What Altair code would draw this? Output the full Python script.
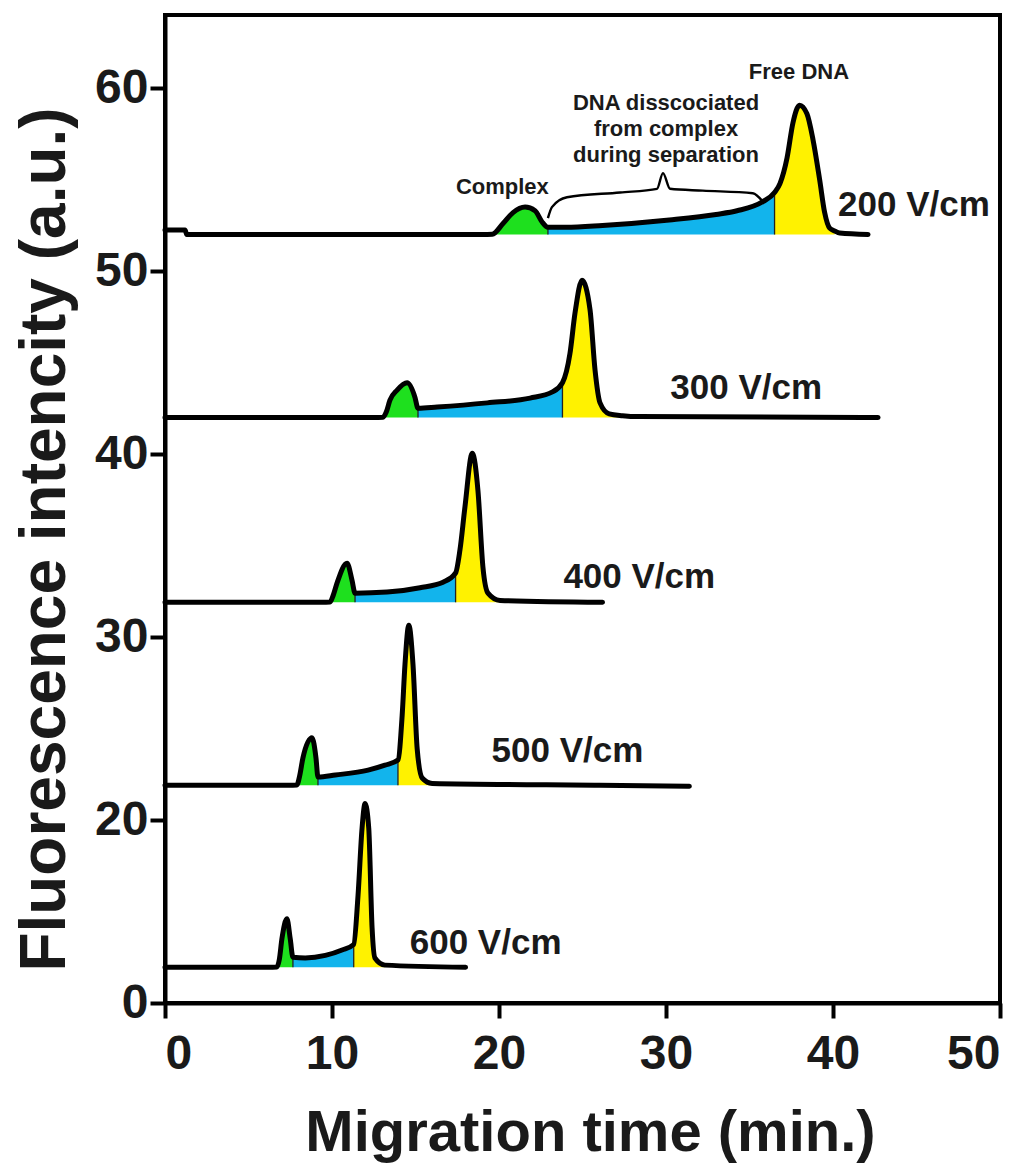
import altair as alt
import pandas as pd

FONT = "Liberation Sans"

# ---- traces (x = migration time, y = fluorescence) ----
t200_x = [0, 1.2, 1.3, 19.0, 19.6, 20.24, 20.84, 21.56, 22.16, 22.57, 22.93, 24.0, 26.2, 30.2, 33.0, 34.25, 35.8, 36.5,
          36.83, 37.25, 37.6, 38.0, 38.44, 38.8, 39.2, 39.5, 39.8, 40.1, 40.4, 42.1]
t200_y = [52.25, 52.25, 52.0, 52.0, 52.02, 52.6, 53.2, 53.5, 53.3, 52.7, 52.4, 52.4, 52.5, 52.8, 53.1, 53.3, 53.8, 54.3,
          54.8, 56.2, 58.1, 59.07, 58.6, 57.2, 55.0, 53.2, 52.35, 52.2, 52.08, 52.0]

t300_x = [0, 12.5, 13.05, 13.25, 13.47, 13.9, 14.5, 14.97, 15.15, 16.3, 19.3, 21.86, 23.2, 23.8, 24.25, 24.55, 24.97,
          25.45, 25.75, 26.05, 26.6, 27.4, 28.3, 42.7]
t300_y = [42.0, 42.0, 42.02, 42.3, 42.95, 43.5, 43.9, 43.1, 42.5, 42.57, 42.8, 43.06, 43.4, 43.9, 45.5, 47.7, 49.5,
          47.9, 44.6, 42.8, 42.2, 42.1, 42.05, 42.0]

t400_x = [0, 9.4, 9.88, 10.08, 10.3, 10.9, 11.2, 11.38, 13.3, 15.27, 16.65, 17.4, 17.66, 17.96, 18.4, 18.74, 19.04,
          19.34, 20.06, 26.2]
t400_y = [31.9, 31.9, 31.92, 32.3, 32.95, 34.04, 33.1, 32.4, 32.46, 32.7, 33.0, 33.5, 34.75, 37.1, 40.05, 38.0, 33.8,
          32.4, 32.0, 31.9]

t500_x = [0, 7.4, 7.9, 8.06, 8.26, 8.8, 9.04, 9.16, 10.2, 12.16, 13.17, 13.95, 14.2, 14.37, 14.6, 14.85, 15.1, 15.4,
          16.0, 26.0, 31.4]
t500_y = [21.9, 21.9, 21.92, 22.4, 23.4, 24.5, 23.4, 22.35, 22.46, 22.73, 23.0, 23.28, 25.7, 28.5, 30.65, 28.5, 23.9,
          22.3, 22.0, 21.9, 21.85]

t600_x = [0, 6.2, 6.7, 6.85, 7.0, 7.3, 7.5, 7.66, 8.4, 9.6, 10.6, 11.3, 11.56, 11.8, 11.98, 12.2, 12.4, 12.57, 13.17,
          18.0]
t600_y = [11.95, 11.95, 11.97, 12.4, 13.5, 14.6, 13.5, 12.5, 12.46, 12.6, 12.9, 13.2, 15.9, 19.56, 20.9, 19.56, 14.1,
          12.46, 12.07, 11.95]

trace_names = ["200 V/cm", "300 V/cm", "400 V/cm", "500 V/cm", "600 V/cm"]
trace_bases = [52.0, 42.0, 31.9, 21.9, 11.95]
# region limits: complex start, complex/dissociated, dissociated/free, free end
trace_regions = [
    (19.6, 22.93, 36.5, 40.1),
    (13.05, 15.15, 23.8, 27.4),
    (9.88, 11.38, 17.4, 20.06),
    (7.9, 9.16, 13.95, 16.0),
    (6.7, 7.66, 11.3, 13.17),
]
trace_xs = [t200_x, t300_x, t400_x, t500_x, t600_x]
trace_ys = [t200_y, t300_y, t400_y, t500_y, t600_y]

# labels
volt_label_x = [44.85, 34.8, 28.4, 24.1, 19.2]
volt_label_y = [53.6, 43.6, 33.3, 23.8, 13.3]

note_text = ["Free DNA", "DNA disscociated", "from complex", "during separation", "Complex"]
note_x = [37.96, 30.0, 30.0, 30.0, 20.2]
note_y = [60.9, 59.2, 57.76, 56.34, 54.6]

brace_x = [22.93, 23.17, 24.07, 27.25, 29.46, 29.82, 30.24, 32.2, 35.2, 35.8]
brace_y = [52.9, 53.5, 54.04, 54.3, 54.5, 55.36, 54.5, 54.4, 54.26, 53.8]

seg_names = ["Complex", "Dissociated", "Free"]
seg_colors = ["#1EE01E", "#12B4EC", "#FFF200"]

# ---- build tables ----
line_rows = []
seg_rows = {s: [] for s in seg_names}
bounds = []
for name, xs, ys, base, (g0, gb, by, y1) in zip(trace_names, trace_xs, trace_ys, trace_bases, trace_regions):
    for x, y in zip(xs, ys):
        rec = dict(trace=name, x=x, y=y, base=base)
        line_rows.append(rec)
        if g0 <= x <= gb:
            seg_rows["Complex"].append(rec)
        if gb <= x <= by:
            seg_rows["Dissociated"].append(rec)
        if by <= x <= y1:
            seg_rows["Free"].append(rec)
        if x in (gb, by):
            bounds.append(rec)

df_line = pd.DataFrame(line_rows)
df_b = pd.DataFrame(bounds)
df_v = pd.DataFrame(dict(text=trace_names, x=volt_label_x, y=volt_label_y))
df_n = pd.DataFrame(dict(text=note_text, x=note_x, y=note_y))
df_brace = pd.DataFrame(dict(x=brace_x, y=brace_y))

xscale = alt.Scale(domain=[0, 50], nice=False, zero=False)
yscale = alt.Scale(domain=[10, 64], nice=False, zero=False)

xaxis = alt.Axis(values=[0, 10, 20, 30, 40, 50], title="Migration time (min.)", grid=False,
                 labelFont=FONT, labelFontSize=48, labelFontWeight="bold", labelColor="#1a1a1a", labelPadding=12,
                 tickSize=15, tickWidth=4, tickColor="black", domainWidth=4, domainColor="black",
                 titleFont=FONT, titleFontSize=58, titleFontWeight="bold", titleColor="#1a1a1a",
                 titleBaseline="alphabetic", titleY=147, titleX=425)
yaxis = alt.Axis(values=[10, 20, 30, 40, 50, 60], labelExpr="datum.value == 10 ? '0' : datum.label",
                 title="Fluorescence intencity (a.u.)", grid=False,
                 labelFont=FONT, labelFontSize=48, labelFontWeight="bold", labelColor="#1a1a1a", labelPadding=2,
                 tickSize=15, tickWidth=4, tickColor="black", domainWidth=4, domainColor="black",
                 titleFont=FONT, titleFontSize=64, titleFontWeight="bold", titleColor="#1a1a1a",
                 titleBaseline="alphabetic", titleX=-101, titleY=524, titleAngle=-90, titleAlign="center")

layers = []
for s, c in zip(seg_names, seg_colors):
    layers.append(
        alt.Chart(pd.DataFrame(seg_rows[s])).mark_area(interpolate="monotone", color=c, opacity=1).encode(
            x=alt.X("x:Q", scale=xscale, axis=xaxis),
            y=alt.Y("y:Q", scale=yscale, axis=yaxis, stack=None),
            y2="base:Q",
            detail="trace:N",
        )
    )

rules = alt.Chart(df_b).mark_rule(color="#222222", strokeWidth=1.3).encode(
    x="x:Q", y="base:Q", y2="y:Q"
)

lines = alt.Chart(df_line).mark_line(
    interpolate="monotone", color="black", strokeWidth=5, strokeJoin="round", strokeCap="round"
).encode(x="x:Q", y=alt.Y("y:Q", stack=None), detail="trace:N")

brace = alt.Chart(df_brace).mark_line(interpolate="monotone", color="black", strokeWidth=2.4).encode(
    x="x:Q", y="y:Q"
)

volt_text = alt.Chart(df_v).mark_text(font=FONT, fontSize=35, fontWeight="bold", color="#1a1a1a",
                                      align="center", baseline="middle").encode(x="x:Q", y="y:Q", text="text:N")

note_txt = alt.Chart(df_n).mark_text(font=FONT, fontSize=22, fontWeight="bold", color="#1a1a1a",
                                     align="center", baseline="middle").encode(x="x:Q", y="y:Q", text="text:N")

chart = alt.layer(*layers, rules, lines, brace, volt_text, note_txt).properties(
    width=835, height=988,
    padding={"left": 165, "top": 15, "right": 28, "bottom": 160},
    autosize=alt.AutoSizeParams(type="none"),
    background="white",
).configure_view(stroke="black", strokeWidth=4)

chart.save("out.html", embed_options={"renderer": "svg", "actions": False})
